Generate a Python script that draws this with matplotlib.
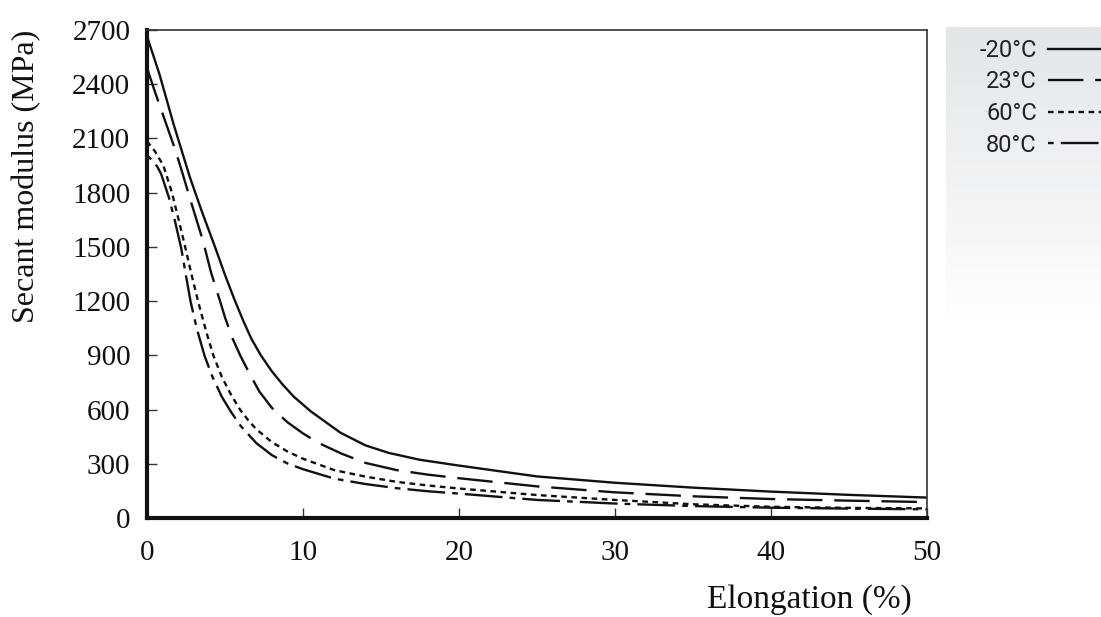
import numpy as np
from matplotlib import pyplot as plt
from matplotlib.colors import LinearSegmentedColormap

# elongation (%) and secant modulus (MPa)
x_m20 = [0, 0.8, 1.7, 2.75, 3.5, 4.4, 5, 5.6, 6.2, 6.7, 7.3, 8, 8.7, 9.4, 10.5, 12.4, 14, 15.5, 17.5, 20, 25, 30, 35, 40, 45, 50]
y_m20 = [2665, 2455, 2180, 1885, 1700, 1490, 1345, 1210, 1085, 990, 900, 812, 738, 672, 590, 472, 402, 360, 322, 290, 230, 195, 168, 146, 128, 113]

x_23 = [0, 0.5, 1.25, 1.8, 2.3, 2.8, 3.6, 4.1, 4.7, 5, 5.5, 6, 6.6, 7.2, 8, 9, 10, 11, 12.5, 14, 16, 18, 20, 25, 30, 35, 40, 45, 50]
y_23 = [2490, 2360, 2175, 2040, 1900, 1755, 1530, 1360, 1195, 1110, 990, 895, 795, 700, 610, 530, 468, 415, 355, 305, 265, 240, 220, 175, 142, 120, 105, 96, 88]

x_60 = [0, 0.5, 1.05, 1.6, 2.1, 2.5, 2.9, 3.3, 3.8, 4.25, 4.8, 5.4, 6, 6.5, 7, 8, 9, 10, 12, 14, 16, 18, 20, 25, 30, 35, 40, 45, 50]
y_60 = [2085, 2030, 1950, 1800, 1625, 1480, 1330, 1190, 1030, 900, 780, 680, 595, 540, 492, 420, 368, 328, 265, 229, 200, 180, 163, 127, 100, 76, 62, 56, 53]

x_80 = [0, 0.4, 0.65, 0.9, 1.4, 1.8, 2.2, 2.5, 2.8, 3.2, 3.7, 4.2, 4.8, 5.4, 6, 7, 8, 9, 10, 12, 14, 16, 18, 20, 25, 30, 35, 40, 45, 50]
y_80 = [2005, 1975, 1945, 1905, 1775, 1640, 1490, 1340, 1195, 1045, 895, 780, 670, 585, 510, 415, 348, 302, 270, 218, 188, 165, 148, 135, 100, 80, 66, 57, 52, 48]

labels = ['-20°C', '23°C', '60°C', '80°C']
x_ticks = [0, 10, 20, 30, 40, 50]
y_ticks = [0, 300, 600, 900, 1200, 1500, 1800, 2100, 2400, 2700]

W, H = 1101, 617
fig = plt.figure(figsize=(W/100, H/100), dpi=100)

# grey gradient panel behind the legend
bg = fig.add_axes([946/W, 1-325/H, (W-946)/W, (325-27)/H])
grad = np.linspace(0, 1, 256).reshape(-1, 1)
cm = LinearSegmentedColormap.from_list('g', ['#e4e5e7', '#ffffff'])
bg.imshow(grad, aspect='auto', cmap=cm, extent=[0, 1, 0, 1])
bg.axis('off')

ax = fig.add_axes([147/W, 1-518/H, (927-147)/W, (518-30)/H])
serif = 'Liberation Serif'
lw = 1.7
col = '#111111'
l1, = ax.plot(x_m20, y_m20, color=col, lw=lw, solid_joinstyle='round')
l2, = ax.plot(x_23, y_23, color=col, lw=lw, dashes=(15, 5))
l3, = ax.plot(x_60, y_60, color=col, lw=lw, dashes=(2.4, 1.9))
l4, = ax.plot(x_80, y_80, color=col, lw=lw, dashes=(2.4, 3, 16, 3))

ax.set_xlim(0, 50)
ax.set_ylim(0, 2700)
ax.set_xticks(x_ticks)
ax.set_yticks(y_ticks)
ax.tick_params(direction='in', length=7, width=1, colors='#333333', labelcolor='#111111')
ax.tick_params(axis='x', pad=16)
ax.tick_params(axis='y', pad=12)
for lab in ax.get_xticklabels() + ax.get_yticklabels():
    lab.set_fontfamily(serif)
    lab.set_fontsize(21)

ax.spines['left'].set_linewidth(3)
ax.spines['bottom'].set_linewidth(3)
ax.spines['left'].set_color('#111111')
ax.spines['bottom'].set_color('#111111')
ax.spines['top'].set_linewidth(1.2)
ax.spines['right'].set_linewidth(1.2)
ax.spines['top'].set_color('#333333')
ax.spines['right'].set_color('#333333')

fig.text(912/W, 1-600/H, 'Elongation (%)', family=serif, fontsize=24, ha='right', va='center', color='#111111')
fig.text(27/W, 1-30/H, 'Secant modulus (MPa)', family=serif, fontsize=23, rotation=90,
         ha='center', va='top', color='#111111')

leg = fig.legend([l1, l2, l3, l4], labels, loc='upper right', bbox_to_anchor=(1.0, 1-39/H),
                 frameon=False, markerfirst=False, handlelength=2.25, handletextpad=0.47,
                 labelspacing=0.36, borderpad=0, borderaxespad=0,
                 prop={'family': 'Roboto', 'size': 17})
for t in leg.get_texts():
    t.set_color('#222222')

fig.savefig('out.png', dpi=100)
